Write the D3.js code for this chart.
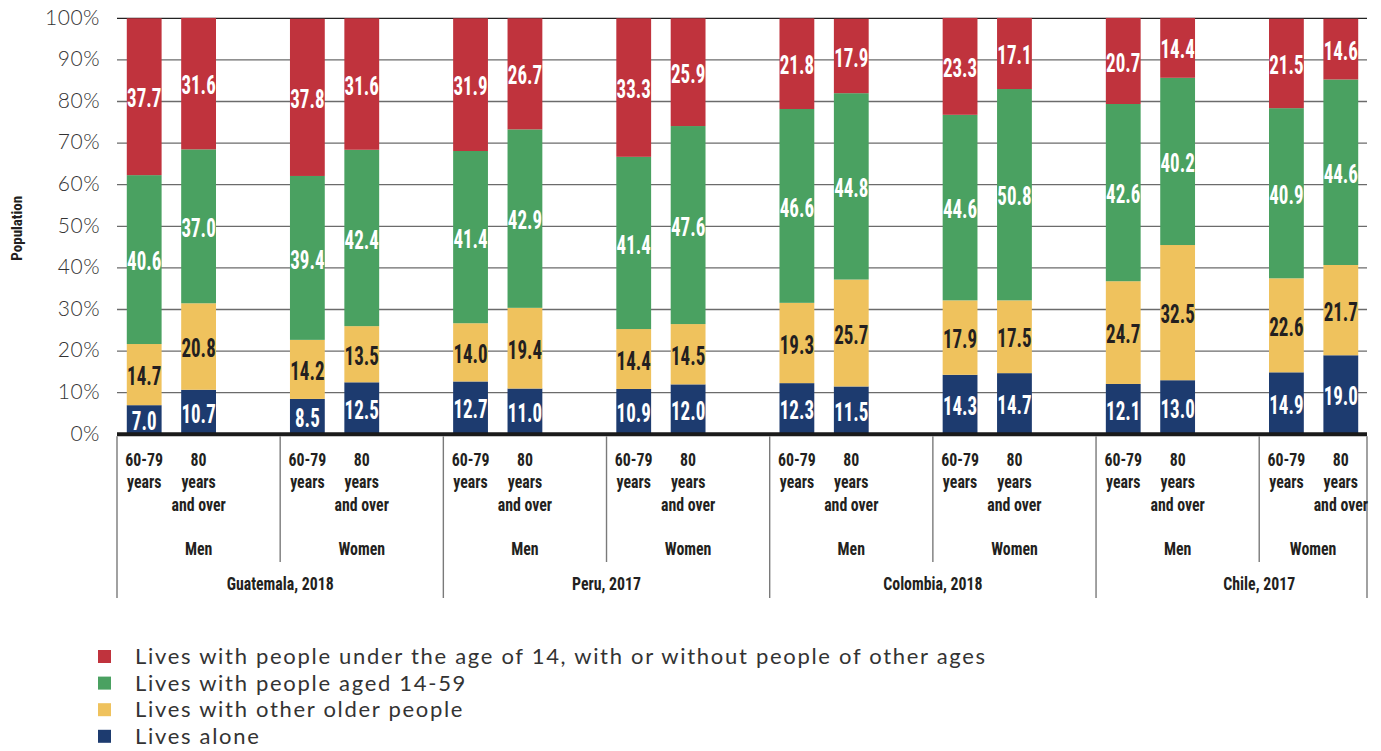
<!DOCTYPE html>
<html><head><meta charset="utf-8">
<script src="https://cdn.jsdelivr.net/npm/d3@7"></script>
<style>
html,body{margin:0;padding:0;background:#fff;}
svg{display:block;}
.cond{font-family:"Liberation Sans Narrow","Roboto Condensed","DejaVu Sans Condensed","Liberation Sans",sans-serif;font-weight:bold;font-stretch:condensed;}
.gotham{font-family:"Lato","Noto Sans","Open Sans",sans-serif;}
</style></head>
<body>
<svg id="chart" width="1381" height="751"></svg>
<script>
// ---- data ----
const countries = ["Guatemala, 2018", "Peru, 2017", "Colombia, 2018", "Chile, 2017"];
const sexes = ["Men", "Women"];
const ageLabels = [["60-79", "years"], ["80", "years", "and over"]];
const seriesNames = [
  "Lives alone",
  "Lives with other older people",
  "Lives with people aged 14-59",
  "Lives with people under the age of 14, with or without people of other ages"
];
// bars: Guatemala M 60-79, M 80+, W 60-79, W 80+, then Peru, Colombia, Chile
const livesAlone = [7.0, 10.7, 8.5, 12.5, 12.7, 11.0, 10.9, 12.0, 12.3, 11.5, 14.3, 14.7, 12.1, 13.0, 14.9, 19.0];
const otherOlder = [14.7, 20.8, 14.2, 13.5, 14.0, 19.4, 14.4, 14.5, 19.3, 25.7, 17.9, 17.5, 24.7, 32.5, 22.6, 21.7];
const aged14to59 = [40.6, 37.0, 39.4, 42.4, 41.4, 42.9, 41.4, 47.6, 46.6, 44.8, 44.6, 50.8, 42.6, 40.2, 40.9, 44.6];
const under14 = [37.7, 31.6, 37.8, 31.6, 31.9, 26.7, 33.3, 25.9, 21.8, 17.9, 23.3, 17.1, 20.7, 14.4, 21.5, 14.6];
const yTicks = [0, 10, 20, 30, 40, 50, 60, 70, 80, 90, 100];
const colors = ["#1d3b6f", "#efc25d", "#4aa161", "#c0333d"];
const labelColors = ["#ffffff", "#231f20", "#ffffff", "#ffffff"];
const legendOrder = [3, 2, 1, 0];

// ---- build table ----
const keys = ["alone", "older", "mid", "young"];
const bars = livesAlone.map((v, i) => ({
  i,
  country: Math.floor(i / 4),
  sex: Math.floor(i / 2) % 2,
  age: i % 2,
  slot: Math.floor(i / 4) * 6 + (Math.floor(i / 2) % 2) * 3 + (i % 2),
  alone: v, older: otherOlder[i], mid: aged14to59[i], young: under14[i]
}));
const nSlots = countries.length * 6 - 1;

const svg = d3.select("#chart");
const L = 117, R = 1368, T = 18.3, B = 434.3;

const x = d3.scaleBand().domain(d3.range(nSlots)).range([L, R]).paddingInner(0.36).paddingOuter(0.18);
const y = d3.scaleLinear().domain([0, 100]).range([B, T]);
const step = x.step();
const boundary = k => L + k * step;

// gridlines
svg.append("g").selectAll("line").data(yTicks.filter(d => d > 0)).join("line")
  .attr("x1", L).attr("x2", R - 1).attr("y1", d => y(d)).attr("y2", d => y(d))
  .attr("stroke", d => d === 100 ? "#222" : "#6b6b6b").attr("stroke-width", 1.3);

// y tick labels
svg.append("g").selectAll("text").data(yTicks).join("text")
  .attr("class", "gotham")
  .attr("x", 100).attr("y", d => y(d) + 1)
  .attr("text-anchor", "end").attr("dominant-baseline", "middle")
  .attr("font-size", 21).attr("font-weight", 300).attr("fill", "#333")
  .attr("letter-spacing", 0.5)
  .text(d => d + "%");

// y axis title
svg.append("text").attr("class", "cond")
  .attr("transform", `translate(22,${(T + B) / 2 + 2}) rotate(-90)`)
  .attr("text-anchor", "middle").attr("font-size", 15).attr("fill", "#231f20")
  .text("Population");

// stacked bars
const stack = d3.stack().keys(keys);
const layers = stack(bars);
const gBars = svg.append("g");
layers.forEach((layer, li) => {
  gBars.append("g").selectAll("rect").data(layer).join("rect")
    .attr("x", d => x(d.data.slot)).attr("width", x.bandwidth())
    .attr("y", d => y(d[1])).attr("height", d => y(d[0]) - y(d[1]))
    .attr("fill", colors[li]);
});
layers.forEach((layer, li) => {
  gBars.append("g").selectAll("text").data(layer).join("text")
    .attr("class", "cond")
    .attr("transform", d => `translate(${x(d.data.slot) + x.bandwidth() / 2},${y((d[0] + d[1]) / 2) + 4}) scale(0.76,1)`)
    .attr("text-anchor", "middle").attr("dominant-baseline", "middle")
    .attr("font-size", 25).attr("fill", labelColors[li])
    .text(d => (d[1] - d[0]).toFixed(1));
});

// baseline axis
svg.append("line").attr("x1", L).attr("x2", R - 1).attr("y1", B).attr("y2", B)
  .attr("stroke", "#1a1a1a").attr("stroke-width", 4);

// dividers
const divs = [];
for (let k = 0; k <= nSlots + 1; k += 3) {
  const xx = k >= nSlots ? R - 1 : boundary(k);
  divs.push({ x: xx, long: (k % 6 === 0) || k >= nSlots });
}
svg.append("g").selectAll("line").data(divs).join("line")
  .attr("x1", d => d.x).attr("x2", d => d.x)
  .attr("y1", B + 2).attr("y2", d => d.long ? 598 : 562)
  .attr("stroke", "#7a7a7a").attr("stroke-width", 1.4);

// age labels
const gAge = svg.append("g");
bars.forEach(b => {
  const t = gAge.append("text").attr("class", "cond")
    .attr("text-anchor", "middle").attr("font-size", 18).attr("fill", "#231f20")
    .attr("transform", `translate(${x(b.slot) + x.bandwidth() / 2},466) scale(0.88,1)`);
  ageLabels[b.age].forEach((ln, j) => {
    t.append("tspan").attr("x", 0).attr("y", j * 22.5).text(ln);
  });
});

// sex labels
const gSex = svg.append("g");
countries.forEach((c, ci) => {
  sexes.forEach((s, si) => {
    const k0 = ci * 6 + si * 3;
    const x0 = boundary(k0);
    const x1 = Math.min(boundary(k0 + 3), R - 1);
    gSex.append("text").attr("class", "cond")
      .attr("text-anchor", "middle").attr("font-size", 18).attr("fill", "#231f20")
      .attr("transform", `translate(${(x0 + x1) / 2},555) scale(0.88,1)`)
      .text(s);
  });
  gSex.append("text").attr("class", "cond")
    .attr("text-anchor", "middle").attr("font-size", 18).attr("fill", "#231f20")
    .attr("transform", `translate(${boundary(ci * 6 + 3)},590) scale(0.88,1)`)
    .text(c);
});

// legend
const lg = svg.append("g");
legendOrder.forEach((si, j) => {
  const yy = 656.5 + j * 26.6;
  lg.append("rect").attr("x", 98).attr("y", yy - 6.5).attr("width", 13).attr("height", 13).attr("fill", colors[si]);
  lg.append("text").attr("class", "gotham").attr("x", 135).attr("y", yy + 7.5)
    .attr("font-size", 22).attr("letter-spacing", 1.7).attr("fill", "#333").text(seriesNames[si]);
});
</script>
</body></html>
